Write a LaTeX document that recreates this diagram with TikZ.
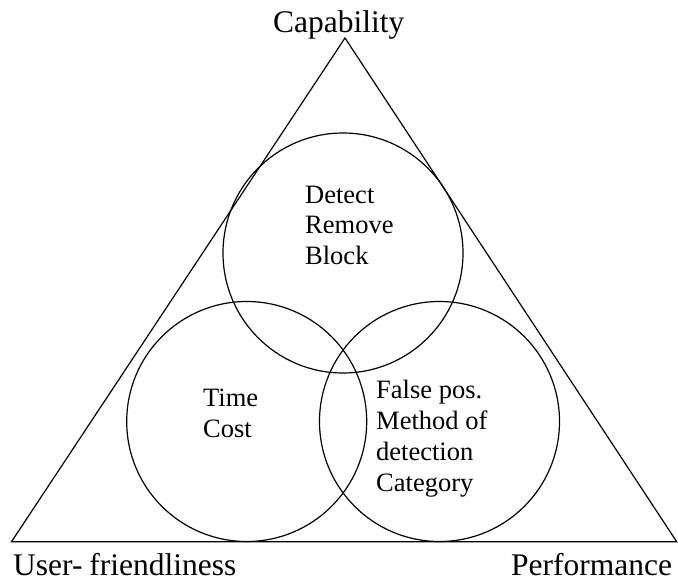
\documentclass[tikz,border=0pt]{standalone}
\usepackage{fontspec}
\setmainfont{Liberation Serif}
\begin{document}
\begin{tikzpicture}[x=1pt,y=-1pt,
  edge/.style={line width=1.2pt, line join=miter},
  ring/.style={circle, draw, line width=1.2pt, minimum size=240pt, inner sep=0pt},
  corner/.style={inner sep=0pt, anchor=base west, font=\fontsize{31.5}{31.5}\selectfont},
  items/.style={inner sep=0pt, anchor=base west, align=left, font=\fontsize{26.5}{30.7}\selectfont}]
  \useasboundingbox (0,0) rectangle (678,583);
  % triangle corners
  \coordinate (apex) at (345,38);
  \coordinate (bl) at (11.5,541.7);
  \coordinate (br) at (676.7,541.7);
  \draw[edge] (apex) -- (bl) -- (br) -- cycle;
  % three overlapping circles
  \node[ring] (capc) at (343,253) {};
  \node[ring] (userc) at (246.7,421.5) {};
  \node[ring] (perfc) at (439.5,421.5) {};
  % corner labels
  \node[corner] (caplbl) at (273,33) {Capability};
  \node[corner] (userlbl) at (13,575.5) {User-\hspace{0.22em}friendliness};
  \node[corner] (perflbl) at (511,575.5) {Performance};
  % circle contents (anchored at the baseline of the last line)
  \node[items] (captxt) at (305,264.6) {Detect\\Remove\\Block};
  \node[items] (usertxt) at (203,437.3) {Time\\Cost};
  \node[items] (perftxt) at (376,491) {False pos.\\Method of\\detection\\Category};
\end{tikzpicture}
\end{document}
